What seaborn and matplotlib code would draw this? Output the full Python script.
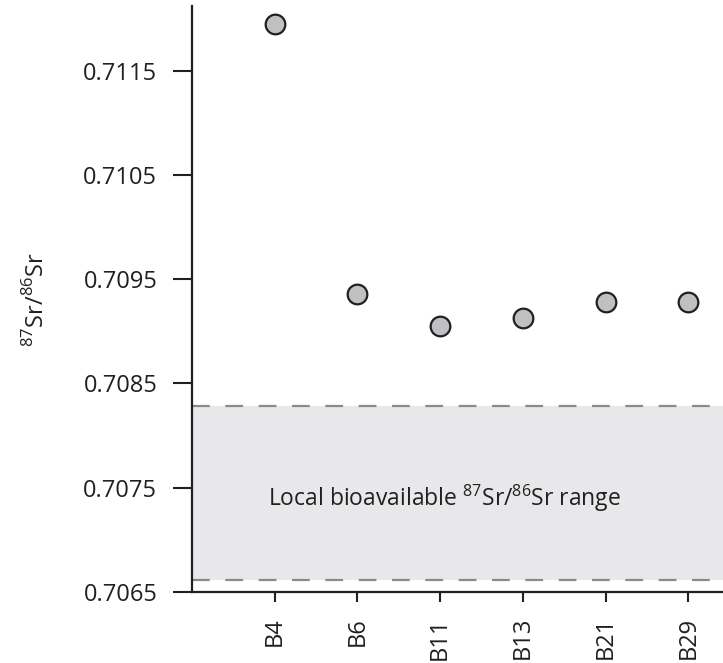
import matplotlib
matplotlib.use("Agg")
import matplotlib.pyplot as plt
import seaborn as sns
import pandas as pd

samples = ["B4", "B6", "B11", "B13", "B21", "B29"]
sr_ratio = [0.71195, 0.70936, 0.70905, 0.70913, 0.70928, 0.70928]
local_low = 0.70662
local_high = 0.70828
y_ticks = [0.7065, 0.7075, 0.7085, 0.7095, 0.7105, 0.7115]

sns.set_style("white")
plt.rcParams["font.family"] = ["Open Sans", "DejaVu Sans"]
plt.rcParams["mathtext.fontset"] = "custom"
plt.rcParams["mathtext.rm"] = "Open Sans"

df = pd.DataFrame({"sample": samples, "ratio": sr_ratio})

fig = plt.figure(figsize=(7.23, 6.63), dpi=100)
ax = fig.add_axes([0.2656, 0.107, 0.7344, 0.884])

# local range band
ax.axhspan(local_low, local_high, color="#e8e7e9", zorder=0, lw=0)
for yv in (local_low, local_high):
    ax.axhline(yv, color="#8a8a8a", lw=1.6, ls=(0, (8, 7)), zorder=1)

sns.scatterplot(data=df, x="sample", y="ratio", ax=ax, s=200,
                color="#c0bfc1", edgecolor="#231f20", linewidth=1.6, zorder=3)

ax.set_xlim(-1.0, 5.42)
ax.set_ylim(0.7065, 0.71212)
ax.set_yticks(y_ticks)
ax.set_yticklabels([f"{v:.4f}" for v in y_ticks], fontsize=17, color="#231f20")
ax.set_xticks(range(len(samples)))
ax.set_xticklabels(samples, rotation=90, fontsize=17, color="#231f20")
ax.tick_params(axis="y", length=14, width=1.5, color="#231f20", pad=11, left=True)
ax.tick_params(axis="x", length=7, width=1.5, color="#231f20", pad=11, bottom=True)

sns.despine(ax=ax)
for side in ("left", "bottom"):
    ax.spines[side].set_linewidth(1.6)
    ax.spines[side].set_color("#231f20")

ax.set_xlabel("")
ax.set_ylabel(r"$^{87}$Sr/$^{86}$Sr", fontsize=17, color="#231f20", labelpad=24)

ax.text(0.475, 0.7074, r"Local bioavailable $^{87}$Sr/$^{86}$Sr range",
        transform=ax.get_yaxis_transform(), ha="center", va="center",
        fontsize=16.5, color="#231f20")

fig.savefig("out.png", dpi=100)
